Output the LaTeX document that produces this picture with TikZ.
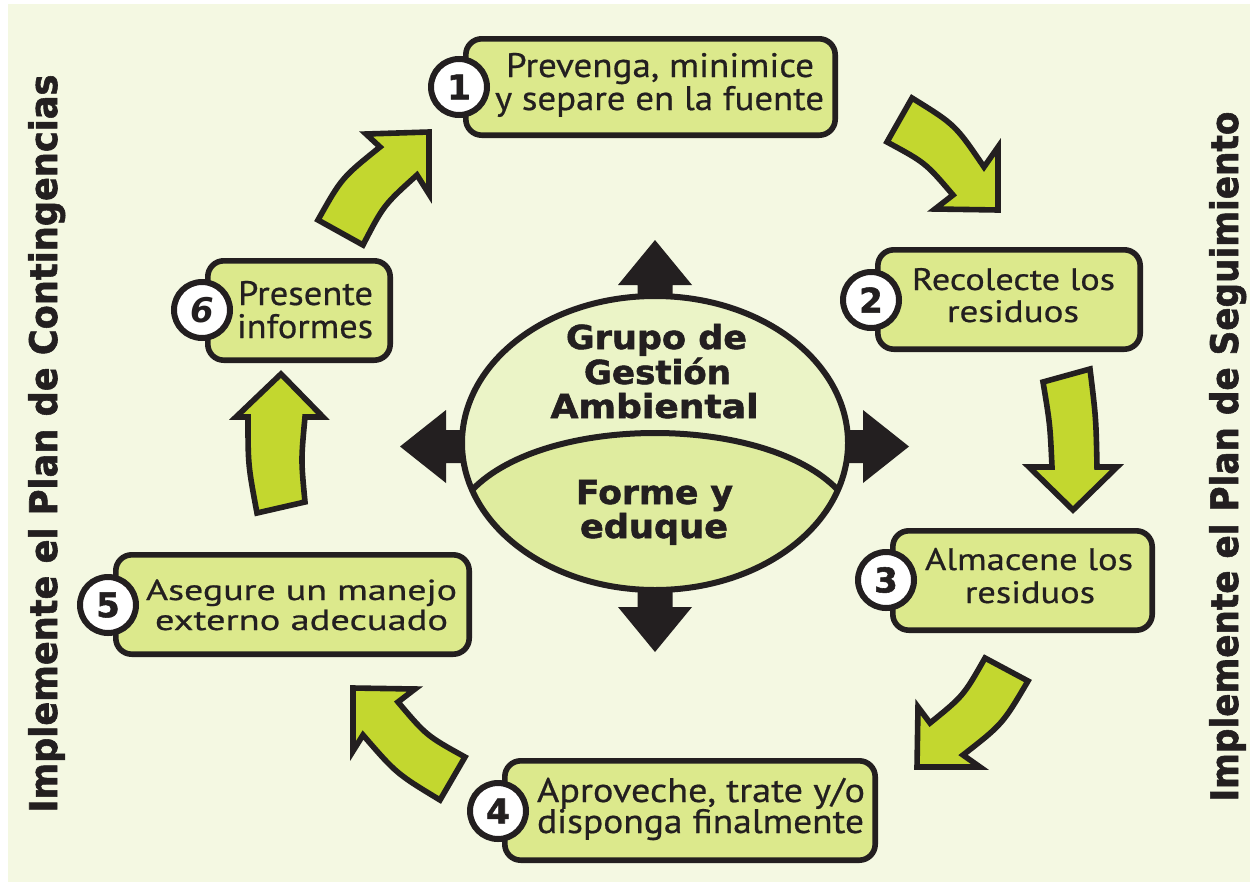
\documentclass[tikz,border=0pt]{standalone}
\usepackage{fontspec}
\usepackage{graphicx}
\setmainfont[UprightFeatures={FakeBold=0.6}]{PT Sans}
\newfontfamily\heavyfont[BoldFeatures={FakeBold=1.6}]{DejaVu Sans}
\definecolor{bgc}{HTML}{F4F8E2}
\definecolor{boxfill}{HTML}{DCE98C}
\definecolor{arrowfill}{HTML}{C3D72F}
\definecolor{elltop}{HTML}{EBF4C7}
\definecolor{ellbot}{HTML}{DFEC9F}
\definecolor{ink}{HTML}{231F20}
\newcommand{\fitw}[2]{\resizebox{#1}{\height}{#2}}
\newcommand{\fsBig}{\fontsize{17pt}{17pt}\selectfont}
\newcommand{\fsMid}{\fontsize{15.5pt}{15.5pt}\selectfont}
\newcommand{\fsSmall}{\fontsize{14.5pt}{14.5pt}\selectfont}
\newcommand{\fsCenter}{\heavyfont\bfseries\fontsize{16.5pt}{16.5pt}\selectfont}
\newcommand{\fsSide}{\heavyfont\bfseries\fontsize{19pt}{19pt}\selectfont}
\begin{document}
\begin{tikzpicture}[x=0.5pt,y=-0.5pt,
  boxst/.style={draw=ink, line width=2.8pt, fill=boxfill, rounded corners=8pt, inner sep=0pt},
  numst/.style={circle, draw=ink, line width=3pt, fill=white, minimum size=28pt, inner sep=0pt,
                text=ink, font=\heavyfont\bfseries\fontsize{17pt}{17pt}\selectfont},
  garrow/.style={draw=ink, line width=2.8pt, fill=arrowfill, line join=miter, miter limit=10},
  karrow/.style={fill=ink},
  txt/.style={anchor=base, inner sep=0pt, text=ink},
  side/.style={rotate=90, anchor=base west, inner sep=0pt, text=ink, font=\fsSide}]
\useasboundingbox (0,0) rectangle (1257,884);
\fill[bgc] (8,4) rectangle (1250,882);

% ---------- green cycle arrows ----------
\draw[garrow] (912,98) .. controls (955.3,124.8) .. (984,167) -- (998,147) -- (998,210)
  -- (935,209) -- (953,195) .. controls (925.5,162.8) .. (887,142) -- cycle;
\draw[garrow] (1043,382) -- (1090,369) .. controls (1096,418) .. (1097,467) -- (1117,467)
  -- (1073,510) -- (1029,467) -- (1052,467) .. controls (1050,424) .. (1043,382) -- cycle;
\draw[garrow] (985,658) -- (1028,681) .. controls (1002.5,724.2) .. (963,755) -- (980,767)
  -- (917,767) -- (918,707) -- (930,723) .. controls (963.5,695.8) .. (985,658) -- cycle;
\draw[garrow] (440,800) -- (465,757) .. controls (426.4,735.6) .. (398,702) -- (415,689)
  -- (353,688) -- (353,751) -- (363,735) .. controls (396.4,773.6) .. (440,800) -- cycle;
\draw[garrow] (257,513) -- (305,502) .. controls (301,460) .. (305,417) -- (323,417)
  -- (281,374) -- (236,417) -- (248,417) .. controls (248,465) .. (257,513) -- cycle;
\draw[garrow] (318,220) -- (363,245) .. controls (383.7,205.1) .. (417,175) -- (429,194)
  -- (429,132) -- (366,134) -- (380,147) .. controls (341.7,177.8) .. (318,220) -- cycle;

% ---------- black cross arrows ----------
\coordinate (ctr) at (655,446);
\fill[karrow] (637.5,446) -- (637.5,285) -- (618,285) -- (655,240) -- (692,285) -- (672.5,285) -- (672.5,446) -- cycle;
\fill[karrow] (637.5,446) -- (637.5,607) -- (618,607) -- (655,652) -- (692,607) -- (672.5,607) -- (672.5,446) -- cycle;
\fill[karrow] (655,430) -- (446,430) -- (446,410) -- (400,446.5) -- (446,483) -- (446,463) -- (655,463) -- cycle;
\fill[karrow] (655,430) -- (863,430) -- (863,410) -- (909,446.5) -- (863,483) -- (863,463) -- (655,463) -- cycle;

% ---------- central ellipse ----------
\fill[elltop] (655,443) ellipse [x radius=96.5pt, y radius=73.5pt];
\begin{scope}
  \clip (655,443) ellipse [x radius=96.5pt, y radius=73.5pt];
  \fill[ellbot] (400,490) -- (472.1,490) .. controls (545,414) and (765,414) .. (837.9,490)
    -- (900,490) -- (900,700) -- (400,700) -- cycle;
\end{scope}
\draw[ink, line width=3pt] (472.1,490) .. controls (545,414) and (765,414) .. (837.9,490);
\draw[ink, line width=3pt] (655,443) ellipse [x radius=96.5pt, y radius=73.5pt];

\node[txt, font=\fsCenter] (g1) at (656.5,349) {\fitw{90.5pt}{Grupo de}};
\node[txt, font=\fsCenter] (g2) at (657.5,384) {\fitw{73.5pt}{Gestión}};
\node[txt, font=\fsCenter] (g3) at (654.5,418) {\fitw{104pt}{Ambiental}};
\node[txt, font=\fsCenter] (g4) at (654.5,504) {\fitw{78.5pt}{Forme y}};
\node[txt, font=\fsCenter] (g5) at (654,538) {\fitw{74pt}{eduque}};

% ---------- step boxes ----------
\node[boxst, minimum width=184.7pt, minimum height=48.2pt] (b1) at (650.5,87) {};
\node[boxst, minimum width=131.2pt, minimum height=49.7pt] (b2) at (1009,299.5) {};
\node[boxst, minimum width=129.7pt, minimum height=49.7pt] (b3) at (1022.5,580.5) {};
\node[boxst, minimum width=185.2pt, minimum height=49.7pt] (b4) at (690,810.5) {};
\node[boxst, minimum width=176.7pt, minimum height=49.7pt] (b5) at (292.5,604.5) {};
\node[boxst, minimum width=91.2pt, minimum height=49.7pt] (b6) at (299,310.5) {};

\node[numst] (n1) at (459,87) {1};
\node[numst] (n2) at (871,300) {2};
\node[numst] (n3) at (886,580) {3};
\node[numst] (n4) at (498,811) {4};
\node[numst] (n5) at (108,605) {5};
\node[numst] (n6) at (202,310) {\itshape 6};

\node[txt, font=\fsBig] (t1a) at (660,77) {\fitw{154pt}{Prevenga, minimice}};
\node[txt, font=\fsBig] (t1b) at (659.5,110) {\fitw{164.5pt}{y separe en la fuente}};
\node[txt, font=\fsMid] (t2a) at (1013.5,290) {\fitw{101.5pt}{Recolecte los}};
\node[txt, font=\fsMid] (t2b) at (1013,322) {\fitw{66pt}{residuos}};
\node[txt, font=\fsMid] (t3a) at (1029,570) {\fitw{104pt}{Almacene los}};
\node[txt, font=\fsMid] (t3b) at (1030,603) {\fitw{65pt}{residuos}};
\node[txt, font=\fsBig] (t4a) at (701,802) {\fitw{164pt}{Aproveche, trate y/o}};
\node[txt, font=\fsBig] (t4b) at (700.5,833) {\fitw{163.5pt}{disponga finalmente}};
\node[txt, font=\fsSmall] (t5a) at (301.5,600) {\fitw{155.5pt}{Asegure un manejo}};
\node[txt, font=\fsSmall] (t5b) at (301.5,630) {\fitw{146.5pt}{externo adecuado}};
\node[txt, font=\fsBig] (t6a) at (305.5,305) {\fitw{67.5pt}{Presente}};
\node[txt, font=\fsBig] (t6b) at (305,338) {\fitw{68pt}{informes}};

% ---------- side labels ----------
\node[side] (sl) at (57,813) {\fitw{369pt}{Implemente el Plan de Contingencias}};
\node[side] (sr) at (1238,802) {\fitw{345pt}{Implemente el Plan de Seguimiento}};
\end{tikzpicture}
\end{document}
